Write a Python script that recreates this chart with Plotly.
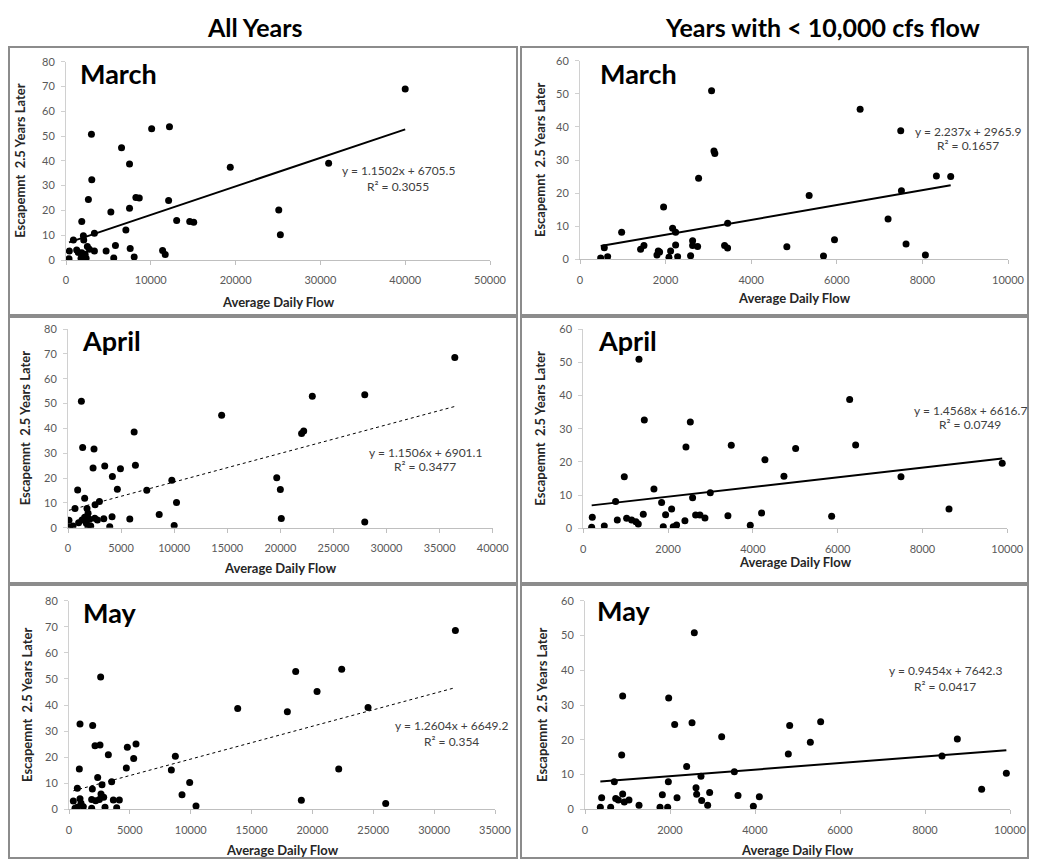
import plotly.graph_objects as go

PAGE_W, PAGE_H = 1037, 867
PAD = 8  # default body margin of the page
W, H = PAGE_W - 2 * PAD, PAGE_H - 2 * PAD

# ---- data: flow (cfs) vs escapement 2.5 years later (thousands)
mar_all_x = [40000, 12200, 10100, 3000, 6550, 7490, 30970, 19370, 3040, 2640,
             5290, 7490, 8240, 8640, 12100, 1860, 13050, 14590, 15060, 25090,
             25280, 7060, 2050, 2090, 3350, 870, 390, 355, 1260, 1450,
             1775, 2050, 2370, 1860, 2250, 2520, 2760, 3350, 4730, 5830,
             5630, 7570, 8040, 11390, 11700]
mar_all_y = [69.0, 53.8, 52.9, 50.7, 45.3, 38.7, 39.0, 37.4, 32.4, 24.4,
             19.4, 20.9, 25.2, 25.0, 24.0, 15.5, 15.9, 15.5, 15.2, 20.2,
             10.2, 12.1, 9.8, 8.1, 10.8, 8.1, 3.6, 0.5, 4.0, 3.0,
             0.7, 0.7, 0.7, 2.9, 2.3, 5.4, 4.3, 3.6, 3.6, 5.9,
             0.8, 4.6, 1.2, 3.8, 2.2]

mar_low_x = [483, 646, 568, 973, 1416, 1494, 1798, 1829, 1860, 1953,
             2078, 2117, 2164, 2234, 2234, 2281, 2584, 2631, 2631, 2748,
             2771, 3378, 3448, 3450, 4833, 3074, 3130, 3150, 5354, 5689,
             5946, 6545, 7198, 7494, 7510, 7618, 8070, 8327, 8661]
mar_low_y = [0.4, 0.8, 3.5, 8.2, 3.0, 4.2, 1.3, 2.5, 2.2, 15.8,
             0.6, 2.5, 9.4, 8.2, 4.3, 0.8, 1.1, 5.6, 4.2, 3.9,
             24.5, 4.2, 3.4, 10.9, 3.8, 50.9, 32.7, 32.0, 19.3, 1.0,
             5.9, 45.3, 12.2, 38.8, 20.7, 4.6, 1.3, 25.2, 25.0]

apr_all_x = [1260, 1380, 2450, 6230, 14470, 2360, 3460, 4940, 6350, 4180,
             9780, 910, 4650, 7420, 1570, 660, 1790, 2550, 2960, 1890,
             10220, 90, 160, 470, 1000, 1320, 1570, 1730, 1890, 2140,
             2040, 2520, 2770, 3370, 4150, 3930, 5820, 8590, 10000, 36430,
             27950, 23010, 22000, 22200, 19660, 20000, 20090, 27950]
apr_all_y = [50.9, 32.3, 31.7, 38.5, 45.3, 24.0, 24.8, 23.7, 25.1, 20.6,
             19.1, 15.2, 15.5, 15.1, 11.9, 7.7, 7.7, 9.2, 10.5, 5.8,
             10.1, 3.0, 0.3, 0.7, 2.0, 3.1, 4.2, 1.8, 0.3, 0.7,
             3.4, 3.8, 3.1, 3.6, 4.4, 0.4, 3.5, 5.3, 0.9, 68.5,
             53.5, 52.9, 37.9, 38.9, 20.1, 15.4, 3.7, 2.3]

apr_low_x = [197, 212, 495, 762, 802, 967, 1022, 1140, 1242, 1297,
             1415, 1666, 1847, 1886, 1941, 2083, 2122, 2200, 2397, 2578,
             2649, 2751, 2869, 2995, 3411, 3938, 4205, 4284, 4732, 1313,
             1439, 2524, 2421, 3490, 6282, 6423, 5008, 7492, 9880, 8625,
             5857]
apr_low_y = [0.3, 3.3, 0.7, 8.1, 2.5, 15.5, 3.0, 2.5, 2.0, 1.3,
             4.2, 11.8, 7.8, 0.5, 4.1, 5.8, 0.5, 1.0, 2.3, 9.2,
             4.0, 4.0, 3.1, 10.7, 3.8, 0.9, 4.6, 20.6, 15.7, 50.9,
             32.6, 32.0, 24.5, 25.0, 38.8, 25.1, 24.0, 15.5, 19.6, 5.8,
             3.6]

may_all_x = [31745, 18625, 22405, 20380, 13860, 17940, 24570, 22160, 19090, 26020,
             2600, 904, 1945, 2136, 2547, 3232, 4793, 5505, 5314, 4711,
             849, 2356, 2712, 3506, 685, 1917, 8737, 8409, 9915, 9285,
             10435, 356, 493, 685, 904, 986, 1178, 1863, 1863, 2191,
             2492, 2630, 2849, 2958, 3643, 3917, 4136]
may_all_y = [68.6, 52.8, 53.7, 45.2, 38.7, 37.4, 39.0, 15.5, 3.5, 2.2,
             50.7, 32.7, 32.1, 24.4, 24.7, 20.9, 23.8, 25.0, 19.5, 15.8,
             15.5, 12.2, 9.4, 10.6, 8.1, 7.8, 20.3, 15.1, 10.3, 5.6,
             1.3, 3.2, 0.4, 0.8, 4.0, 2.3, 1.0, 0.4, 3.8, 3.3,
             3.8, 5.9, 4.6, 0.8, 3.6, 0.6, 3.6]

may_low_x = [361, 392, 604, 690, 722, 784, 886, 925, 1035, 1271,
             1765, 1820, 1945, 1961, 2165, 2392, 2612, 2627, 2729, 2745,
             2886, 2933, 3216, 3514, 3600, 3961, 4102, 4784, 5302, 2572,
             886, 1969, 2110, 2518, 4816, 5545, 8761, 8400, 9914, 9333,
             863]
may_low_y = [0.6, 3.3, 0.6, 7.9, 3.1, 2.7, 4.4, 2.1, 2.7, 1.2,
             0.6, 4.2, 0.6, 7.9, 3.3, 12.3, 6.2, 4.3, 9.5, 2.5,
             1.2, 4.8, 20.9, 10.8, 4.0, 0.9, 3.6, 15.9, 19.3, 50.8,
             32.6, 32.0, 24.4, 24.9, 24.1, 25.2, 20.2, 15.3, 10.4, 5.8,
             15.6]

# trendline coefficients as printed (y in fish, x in cfs)
months = ["March", "March", "April", "April", "May", "May"]
slopes = [1.1502, 2.237, 1.1506, 1.4568, 1.2604, 0.9454]
intercepts = [6705.5, 2965.9, 6901.1, 6616.7, 6649.2, 7642.3]
r2 = ["0.3055", "0.1657", "0.3477", "0.0749", "0.354", "0.0417"]
xmax = [50000, 10000, 40000, 10000, 35000, 10000]
xdtick = [10000, 2000, 5000, 2000, 5000, 2000]
ymax = [80, 60, 80, 60, 80, 60]
headings = ["All Years", "Years with < 10,000 cfs flow"]

series = [(mar_all_x, mar_all_y), (mar_low_x, mar_low_y),
          (apr_all_x, apr_all_y), (apr_low_x, apr_low_y),
          (may_all_x, may_all_y), (may_low_x, may_low_y)]

# ---- layout, in page pixels
plot_px = [(66, 490, 61.7, 260), (580, 1008, 60.7, 259.3),
           (68, 492.7, 329, 527.7), (583.3, 1007.3, 329, 528.3),
           (69, 495, 600.7, 809.3), (585, 1010, 600.7, 809.3)]
boxes = [(9, 517, 47, 315), (521, 1028, 47, 315),
         (9, 517, 317, 583), (521, 1028, 317, 583),
         (9, 517, 585, 858), (521, 1028, 585, 858)]
eq_pos = [(398, 170, 186), (968, 131, 145), (425, 452, 466),
          (970, 410, 424), (451, 725, 741), (945, 670, 686)]
month_pos = [(118, 73), (638, 73), (111, 340), (627, 340), (109, 612), (623, 610)]
ytitle_x = [20, 540, 25, 540, 27, 542]
xtitle_y = [302, 298, 568, 562, 850, 850]
trend_style = [dict(width=2), dict(width=2), dict(width=1, dash="dot"),
               dict(width=2), dict(width=1, dash="dot"), dict(width=2)]


def px(x):
    return (x - PAD) / W


def py(y):
    return 1 - (y - PAD) / H


def label(text, x, y, size, color="black", angle=0):
    return dict(text=text, xref="paper", yref="paper", x=px(x), y=py(y),
                xanchor="center", yanchor="middle", showarrow=False, textangle=angle,
                font=dict(size=size, color=color))


FONT = "Lato, 'Open Sans', sans-serif"
fig = go.Figure()
layout = dict(width=W, height=H, margin=dict(l=0, r=0, t=0, b=0, autoexpand=False),
              paper_bgcolor="white", plot_bgcolor="white", showlegend=False,
              font=dict(family=FONT))
annotations = []
shapes = []

for i, (xs, ys) in enumerate(series):
    n = "" if i == 0 else str(i + 1)
    x0, x1, ytop, ybot = plot_px[i]
    fig.add_trace(go.Scatter(x=xs, y=ys, mode="markers", xaxis="x" + n, yaxis="y" + n,
                             marker=dict(size=7, color="black")))
    lo, hi = min(xs), max(xs)
    fig.add_trace(go.Scatter(x=[lo, hi],
                             y=[(slopes[i] * lo + intercepts[i]) / 1000,
                                (slopes[i] * hi + intercepts[i]) / 1000],
                             mode="lines", xaxis="x" + n, yaxis="y" + n,
                             line=dict(color="black", **trend_style[i])))
    layout["xaxis" + n] = dict(domain=[px(x0), px(x1)], range=[0, xmax[i]], dtick=xdtick[i],
                               anchor="y" + n, showgrid=False, zeroline=False, automargin=False,
                               showline=True, linecolor="#bfbfbf", linewidth=1,
                               ticks="outside", ticklen=4, tickcolor="#bfbfbf",
                               tickformat="d", ticklabelstandoff=6,
                               tickfont=dict(size=11, color="#595959"))
    layout["yaxis" + n] = dict(domain=[py(ybot), py(ytop)], range=[0, ymax[i]], dtick=10,
                               anchor="x" + n, showgrid=False, zeroline=False, automargin=False,
                               showline=True, linecolor="#d0d0d0", linewidth=1,
                               ticks="outside", ticklen=4, tickcolor="#d0d0d0",
                               ticklabelstandoff=4,
                               tickfont=dict(size=11, color="#595959"))
    bx0, bx1, by0, by1 = boxes[i]
    shapes.append(dict(type="rect", xref="paper", yref="paper",
                       x0=px(bx0), x1=px(bx1), y0=py(by1), y1=py(by0),
                       line=dict(color="#8c8c8c", width=2)))
    annotations.append(label("<b>%s</b>" % months[i], *month_pos[i], size=27))
    ex, ey1, ey2 = eq_pos[i]
    annotations.append(label("y = %sx + %s" % (slopes[i], intercepts[i]), ex, ey1, 12, "#404040"))
    annotations.append(label("R² = %s" % r2[i], ex, ey2, 12, "#404040"))
    annotations.append(label("<b>Average Daily Flow</b>", (x0 + x1) / 2, xtitle_y[i], 13, "#262626"))
    annotations.append(label("<b>Escapemnt  2.5 Years Later</b>", ytitle_x[i], (ytop + ybot) / 2,
                             13, "#262626", angle=-90))

annotations.append(label("<b>%s</b>" % headings[0], 255, 27, 25))
annotations.append(label("<b>%s</b>" % headings[1], 822, 27, 25))

layout["annotations"] = annotations
layout["shapes"] = shapes
fig.update_layout(**layout)
fig.write_html("out.html")
